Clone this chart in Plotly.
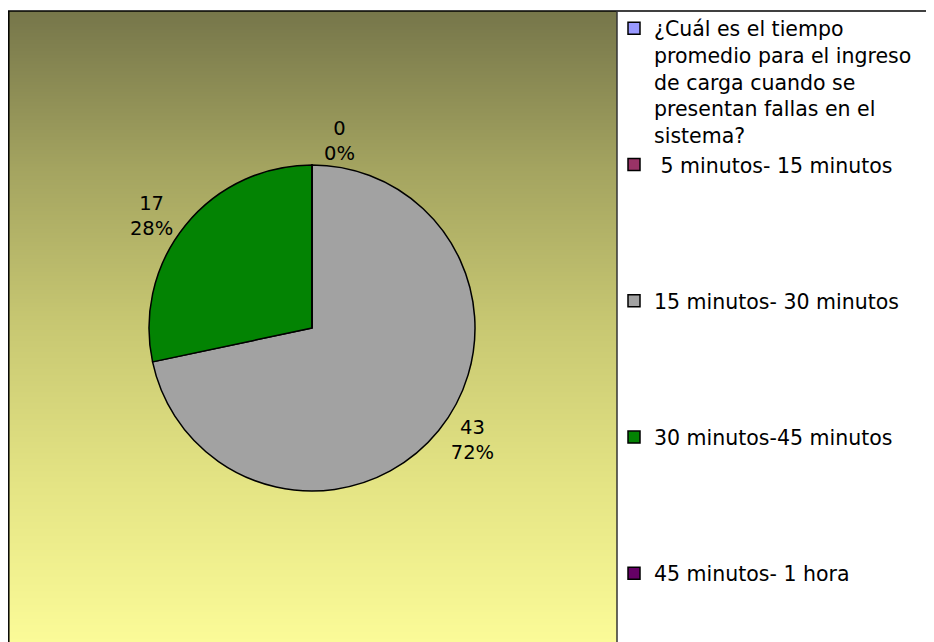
import textwrap
import numpy as np
import plotly.graph_objects as go

# ---- data ----
categories = [
    "¿Cuál es el tiempo promedio para el ingreso de carga cuando se presentan fallas en el sistema?",
    "\u00a05 minutos- 15 minutos",
    "15 minutos- 30 minutos",
    "30 minutos-45 minutos",
    "45 minutos- 1 hora",
]
values = [0, 0, 43, 17, 0]
slice_colors = ["#9999ff", "#993366", "#a2a2a2", "#038303", "#660066"]
show_label = [False, True, True, True, False]

# legend display labels: wrap long text, pad short ones to mimic spacing
pad_lines = [0, 4, 4, 4, 0]
legend_labels = []
for c, p in zip(categories, pad_lines):
    lab = "<br>".join(textwrap.wrap(c, 24)) if len(c) > 30 else c
    legend_labels.append(lab + "<br>\u00a0" * p)

W, H = 926, 634  # page body has an 8px margin inside the 934x642 window
FONT = "DejaVu Sans, Liberation Sans, Arial, sans-serif"
FS_LABEL = 19.5
FS_LEGEND = 20.5

fig = go.Figure()

# background gradient of the plot area
grad = np.linspace(0, 1, 60).reshape(-1, 1)
fig.add_trace(go.Heatmap(
    z=grad, x=[0, 1], y=np.linspace(0, 1, 60),
    colorscale=[[0, "#fbfb98"], [0.25, "#e4e484"], [0.5, "#c8c872"],
                [0.75, "#a4a460"], [1, "#76764a"]],
    showscale=False, zsmooth="best", hoverinfo="skip",
))

templates = ["%{value}<br>%{percent:.0%}" if s else "" for s in show_label]

fig.add_trace(go.Pie(
    labels=legend_labels,
    values=values,
    sort=False,
    direction="clockwise",
    rotation=0,
    marker=dict(colors=slice_colors, line=dict(color="black", width=1.5)),
    texttemplate=templates,
    textposition="outside",
    textfont=dict(family=FONT, size=FS_LABEL, color="black"),
    hovertemplate="%{value} (%{percent})<extra></extra>",
    domain=dict(x=[(304 - 163) / W, (304 + 163) / W],
                y=[(H - 320 - 163) / H, (H - 320 + 163) / H]),
    showlegend=True,
))

fig.update_layout(
    width=W, height=H,
    margin=dict(l=0, r=0, t=0, b=0),
    paper_bgcolor="white",
    plot_bgcolor="white",
    xaxis=dict(domain=[0, 609 / W], range=[0, 1], visible=False, fixedrange=True),
    yaxis=dict(domain=[0, (H - 3) / H], range=[0, 1], visible=False, fixedrange=True),
    legend=dict(
        x=606 / W, y=(H - 0.5) / H, xanchor="left", yanchor="top",
        font=dict(family=FONT, size=FS_LEGEND, color="black"),
        valign="top",
        bgcolor="rgba(0,0,0,0)",
        itemclick=False, itemdoubleclick=False,
    ),
    shapes=[
        dict(type="line", xref="paper", yref="paper", x0=0, x1=1, y0=(H - 3) / H, y1=(H - 3) / H,
             line=dict(color="black", width=1.5)),
        dict(type="line", xref="paper", yref="paper", x0=0.8 / W, x1=0.8 / W, y0=0, y1=(H - 3) / H,
             line=dict(color="black", width=1.5)),
        dict(type="line", xref="paper", yref="paper", x0=609 / W, x1=609 / W, y0=0, y1=(H - 3) / H,
             line=dict(color="#333333", width=1.5)),
    ],
)

fig.write_html("out.html")
